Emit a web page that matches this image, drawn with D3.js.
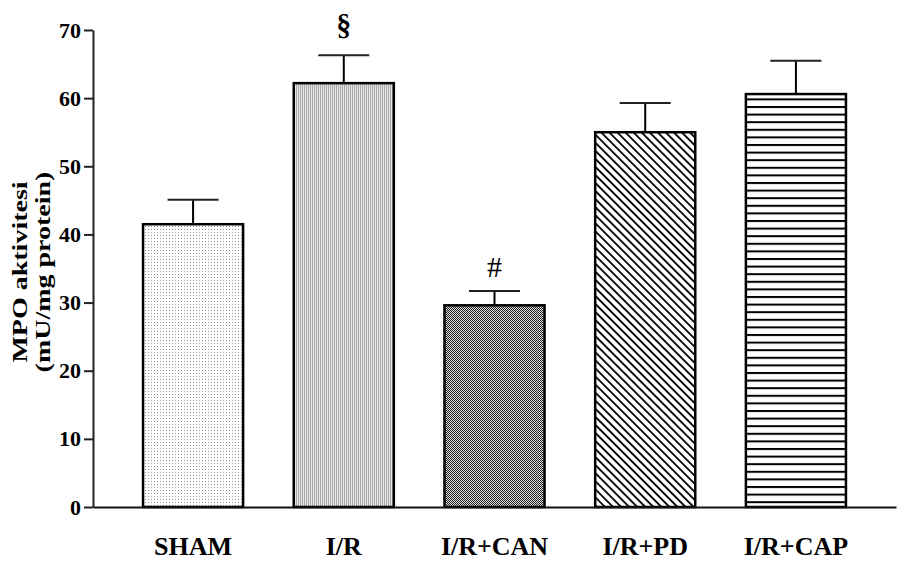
<!DOCTYPE html>
<html>
<head>
<meta charset="utf-8">
<script src="https://cdn.jsdelivr.net/npm/d3@7"></script>
<style>
  body { margin: 0; background: #fff; }
  svg text { font-family: "Liberation Serif", "Times New Roman", serif; }
</style>
</head>
<body>
<div id="chart"></div>
<script>
// Data
const groups = ["SHAM", "I/R", "I/R+CAN", "I/R+PD", "I/R+CAP"];
const means = [41.5, 62.2, 29.6, 55.0, 60.6];
const errors = [3.6, 4.1, 2.1, 4.3, 4.9];
const marks = ["", "§", "#", "", ""];
const yTicks = [0, 10, 20, 30, 40, 50, 60, 70];
const fills = ["dots", "vlines", "checker", "diag", "hlines"];
const yTitle = ["MPO aktivitesi", "(mU/mg protein)"];

const width = 904, height = 563;
const svg = d3.select("#chart").append("svg")
    .attr("width", width)
    .attr("height", height);

const x = d3.scaleBand()
    .domain(groups)
    .range([93, 896])
    .paddingInner(0.336)
    .paddingOuter(0.332);

const y = d3.scaleLinear()
    .domain([0, 70])
    .range([507, 30]);

// Fill patterns
const defs = svg.append("defs");

const dots = defs.append("pattern").attr("id", "dots")
    .attr("patternUnits", "userSpaceOnUse").attr("width", 3).attr("height", 3);
dots.append("rect").attr("width", 3).attr("height", 3).attr("fill", "#fff");
dots.append("rect").attr("x", 1).attr("y", 1).attr("width", 1).attr("height", 1).attr("fill", "#999");

const vlines = defs.append("pattern").attr("id", "vlines")
    .attr("patternUnits", "userSpaceOnUse").attr("width", 2).attr("height", 2);
vlines.append("rect").attr("width", 2).attr("height", 2).attr("fill", "#e6e6e6");
vlines.append("rect").attr("width", 1).attr("height", 2).attr("fill", "#aaa");

const checker = defs.append("pattern").attr("id", "checker")
    .attr("patternUnits", "userSpaceOnUse").attr("width", 2).attr("height", 2);
checker.append("rect").attr("width", 2).attr("height", 2).attr("fill", "#ddd");
checker.append("rect").attr("width", 1).attr("height", 1).attr("fill", "#222");
checker.append("rect").attr("x", 1).attr("y", 1).attr("width", 1).attr("height", 1).attr("fill", "#222");

const diag = defs.append("pattern").attr("id", "diag")
    .attr("patternUnits", "userSpaceOnUse").attr("width", 5.7).attr("height", 5.7)
    .attr("patternTransform", "rotate(-45)");
diag.append("rect").attr("width", 5.7).attr("height", 5.7).attr("fill", "#fff");
diag.append("rect").attr("x", 0).attr("width", 1.8).attr("height", 5.7).attr("fill", "#000");

const hlines = defs.append("pattern").attr("id", "hlines")
    .attr("patternUnits", "userSpaceOnUse").attr("width", 8).attr("height", 7.6)
    .attr("y", 30);
hlines.append("rect").attr("width", 8).attr("height", 7.6).attr("fill", "#fff");
hlines.append("rect").attr("y", 0).attr("width", 8).attr("height", 2).attr("fill", "#000");

// Bars
const bar = svg.append("g").selectAll("g")
    .data(groups)
    .enter().append("g");

bar.append("rect")
    .attr("x", d => x(d))
    .attr("y", (d, i) => y(means[i]))
    .attr("width", x.bandwidth())
    .attr("height", (d, i) => y(0) - y(means[i]))
    .attr("fill", (d, i) => `url(#${fills[i]})`)
    .attr("stroke", "#000")
    .attr("stroke-width", 2.5);

// Error bars (upper only)
bar.append("line")
    .attr("x1", d => x(d) + x.bandwidth() / 2)
    .attr("x2", d => x(d) + x.bandwidth() / 2)
    .attr("y1", (d, i) => y(means[i]) - 1)
    .attr("y2", (d, i) => y(means[i] + errors[i]))
    .attr("stroke", "#000")
    .attr("stroke-width", 2);

bar.append("line")
    .attr("x1", d => x(d) + x.bandwidth() / 2 - 25.5)
    .attr("x2", d => x(d) + x.bandwidth() / 2 + 25.5)
    .attr("y1", (d, i) => y(means[i] + errors[i]))
    .attr("y2", (d, i) => y(means[i] + errors[i]))
    .attr("stroke", "#222")
    .attr("stroke-width", 2);

// Significance marks
bar.append("text")
    .attr("x", d => x(d) + x.bandwidth() / 2)
    .attr("y", (d, i) => y(means[i] + errors[i]) - (marks[i] === "§" ? 20 : 14))
    .attr("text-anchor", "middle")
    .style("font-size", "30px")
    .style("font-weight", (d, i) => marks[i] === "§" ? "bold" : "normal")
    .text((d, i) => marks[i]);

// Y axis
const yAxis = svg.append("g")
    .attr("transform", "translate(93,0)")
    .call(d3.axisLeft(y).tickValues(yTicks).tickSize(9).tickSizeOuter(0).tickPadding(3));
yAxis.select(".domain").attr("stroke", "#222").attr("stroke-width", 2);
yAxis.selectAll(".tick line").attr("stroke", "#222").attr("stroke-width", 2);
yAxis.selectAll(".tick text")
    .style("font-size", "22px")
    .style("font-weight", "bold")
    .style("font-family", "Liberation Serif, serif")
    .attr("fill", "#000");

// X axis
const xAxis = svg.append("g")
    .attr("transform", "translate(0,507)")
    .call(d3.axisBottom(x).tickSize(0).tickSizeOuter(0).tickPadding(30));
xAxis.select(".domain").attr("stroke", "#111").attr("stroke-width", 2);
xAxis.selectAll(".tick text")
    .style("font-size", "26px")
    .style("font-weight", "bold")
    .style("font-family", "Liberation Serif, serif")
    .attr("fill", "#000");

// Y title (glyphs stretched along the text direction as in the original)
svg.append("g").selectAll("text")
    .data(yTitle)
    .enter().append("text")
    .attr("transform", (d, i) => `translate(${27 + i * 23},272) rotate(-90) scale(1.4,1)`)
    .attr("text-anchor", "middle")
    .style("font-size", "20px")
    .style("font-weight", "bold")
    .text(d => d);
</script>
</body>
</html>
